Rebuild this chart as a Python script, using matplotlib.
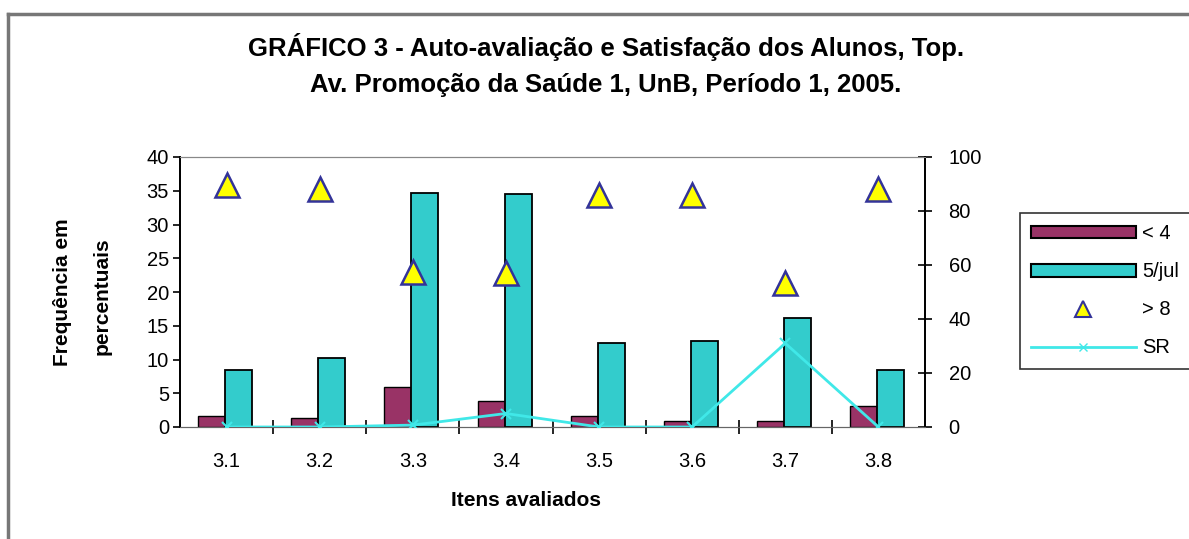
import numpy as np
import matplotlib
matplotlib.use("Agg")
from matplotlib import pyplot as plt
from matplotlib.lines import Line2D
from matplotlib.patches import Patch

plt.rcParams['font.family'] = ['Liberation Sans', 'DejaVu Sans']

#%% data
itens = ["3.1", "3.2", "3.3", "3.4", "3.5", "3.6", "3.7", "3.8"]
menor4 = [1.7, 1.4, 6.0, 3.8, 1.7, 0.9, 0.9, 3.1]          # left axis, %
entre5_7 = [8.5, 10.2, 34.7, 34.5, 12.5, 12.8, 16.2, 8.5]  # left axis, %
maior8 = [89.6, 88.1, 57.5, 57.0, 85.9, 85.9, 53.4, 88.1]  # right axis, %
sem_resp = [0, 0, 0.7, 5.0, 0, 0, 31.0, 0]                 # right axis, %

col_purple = '#993366'
col_teal = '#33CCCC'
col_sr = '#40E8E8'

#%% plot
fig = plt.figure(figsize=(11.89, 5.39), dpi=100)
ax = fig.add_axes([180/1189, 1-427/539, 745/1189, 270/539])
ax2 = ax.twinx()

x = np.arange(len(itens))
w = 0.29
ax.bar(x - 0.16, menor4, w, color=col_purple, edgecolor='black', linewidth=1.0, zorder=2)
ax.bar(x + 0.13, entre5_7, w, color=col_teal, edgecolor='black', linewidth=1.3, zorder=2)

ax2.plot(x, sem_resp, color=col_sr, lw=2, marker='x', ms=7, mew=1.5, zorder=3)
ax2.plot(x, maior8, ls='none', marker='^', ms=17, mfc='#FFFF00', mec='#333399', mew=1.8, zorder=4)

ax.set_xlim(-0.5, len(itens) - 0.5)
ax.set_ylim(0, 40)
ax2.set_ylim(0, 100)
ax.set_yticks(np.arange(0, 41, 5))
ax2.set_yticks(np.arange(0, 101, 20))
ax.set_xticks(x)
ax.set_xticklabels(itens)
ax.set_xticks(np.arange(0.5, len(itens) - 0.5, 1), minor=True)

ax.tick_params(axis='y', labelsize=14.5, length=5, width=1.2, pad=3, direction='out')
ax2.tick_params(axis='y', labelsize=14.5, length=10, width=1.2, pad=12, direction='inout')
ax.tick_params(axis='x', which='major', length=0, labelsize=14.5, pad=18)
ax.tick_params(axis='x', which='minor', length=10, width=1.2, direction='inout')

for a in (ax, ax2):
    a.spines['top'].set_color('#888888')
    a.spines['bottom'].set_color('#666666')
    a.spines['left'].set_linewidth(1.3)
    a.spines['right'].set_linewidth(1.3)

fig.text(606/1189, 1-47/539, 'GRÁFICO 3 - Auto-avaliação e Satisfação dos Alunos, Top.',
         ha='center', va='center', fontsize=18.5, fontweight='bold')
fig.text(606/1189, 1-85/539, 'Av. Promoção da Saúde 1, UnB, Período 1, 2005.',
         ha='center', va='center', fontsize=18.5, fontweight='bold')
fig.text(62/1189, 1-292/539, 'Frequência em', rotation=90, ha='center', va='center',
         fontsize=15, fontweight='bold')
fig.text(102/1189, 1-296/539, 'percentuais', rotation=90, ha='center', va='center',
         fontsize=15, fontweight='bold')
fig.text(526/1189, 1-500/539, 'Itens avaliados', ha='center', va='center',
         fontsize=15, fontweight='bold')

handles = [Patch(facecolor=col_purple, edgecolor='black', lw=1.5),
           Patch(facecolor=col_teal, edgecolor='black', lw=1.5),
           Line2D([], [], ls='none', marker='^', ms=11, mfc='#FFFF00', mec='#333399', mew=1.5),
           Line2D([], [], color=col_sr, lw=2, marker='x', ms=6)]
leg = fig.legend(handles, ['< 4', '5/jul', '> 8', 'SR'], loc='upper left',
                 bbox_to_anchor=(1020/1189, 1-372/539, 200/1189, 159/539), mode='expand',
                 fontsize=14.5, handlelength=5.2, handleheight=0.6, handletextpad=0.3,
                 labelspacing=0.95, borderpad=0.55, frameon=True, fancybox=False, borderaxespad=0)
leg.get_frame().set_edgecolor('black')
leg.get_frame().set_linewidth(1.2)

# page frame lines
fig.add_artist(Line2D([8/1189, 1], [1-14/539, 1-14/539], color='#777777', lw=2.5))
fig.add_artist(Line2D([8/1189, 8/1189], [0, 1-14/539], color='#777777', lw=2.5))

fig.savefig('out.png', dpi=100)
